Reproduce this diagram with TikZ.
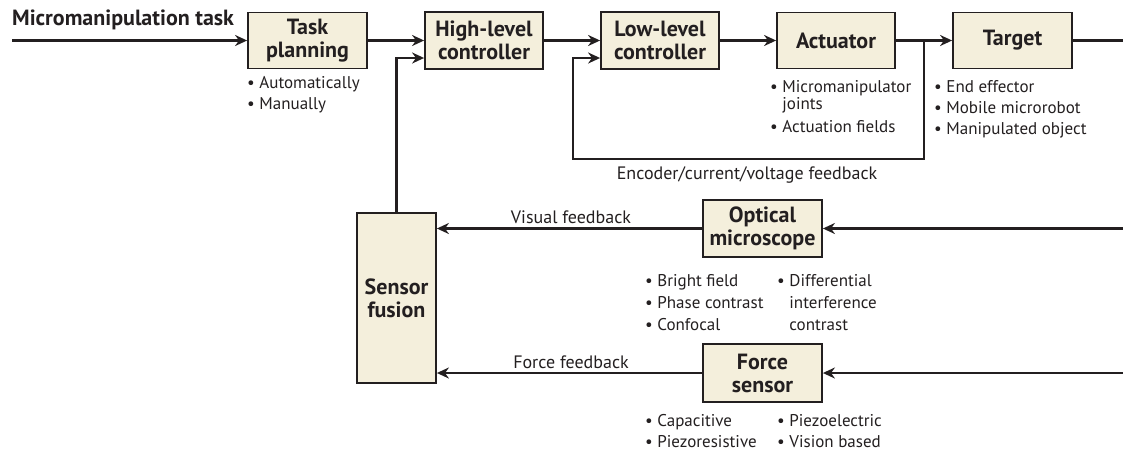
\documentclass[tikz,border=0pt]{standalone}
\usepackage{fontspec}
\setmainfont{PT Sans}
\usetikzlibrary{arrows.meta}
\definecolor{boxfill}{HTML}{F4EFDC}
\definecolor{ink}{HTML}{231F20}
\tikzset{
  blk/.style={draw=ink, line width=1.8pt, fill=boxfill, text=ink, inner sep=0pt,
    font=\fontsize{22}{23}\selectfont\bfseries, align=center},
  arr/.style={draw=ink, line width=2.2pt, -{Stealth[length=12pt,width=11pt]}},
  ln/.style={draw=ink, line width=2.2pt},
  lbl/.style={text=ink, inner sep=0pt, font=\fontsize{18}{20}\selectfont},
  bul/.style={text=ink, inner sep=0pt, anchor=north west, align=left,
    font=\fontsize{17}{21}\selectfont},
}
\newcommand{\bu}{\textbullet\ }
\newcommand{\bi}{\phantom{\textbullet\ }}
\begin{document}
\begin{tikzpicture}[x=1pt,y=-1pt]
\useasboundingbox (0,0) rectangle (1123,451);
% boxes
\node[blk, minimum width=119pt, minimum height=56pt] (task) at (307.5,40.5) {Task\\planning};
\node[blk, minimum width=118pt, minimum height=57pt] (high) at (484,40.5) {High-level\\controller};
\node[blk, minimum width=118pt, minimum height=57pt] (low) at (660,40.5) {Low-level\\controller};
\node[blk, minimum width=118pt, minimum height=56pt] (act) at (836,40.5) {Actuator};
\node[blk, minimum width=119pt, minimum height=56pt] (tgt) at (1012.5,40.5) {Target};
\node[blk, minimum width=79pt, minimum height=170pt] (sf) at (396.5,298) {Sensor\\fusion};
\node[blk, minimum width=119pt, minimum height=57pt] (opt) at (762.5,228.5) {Optical\\microscope};
\node[blk, minimum width=119pt, minimum height=58pt] (frc) at (762.5,373) {Force\\sensor};
% free ends
\coordinate (in) at (12,40.5);
\coordinate (out) at (1123,40.5);
\coordinate (fb) at (924,40.5);
\coordinate (fbc) at (573,159);
\coordinate (rin1) at (1123,228.5);
\coordinate (rin2) at (1123,373);
% connectors
\draw[arr] (in) -- (task.west);
\draw[arr] (task.east) -- (high.west);
\draw[arr] (high.east) -- (low.west);
\draw[arr] (low.east) -- (act.west);
\draw[arr] (act.east) -- (tgt.west);
\draw[ln] (tgt.east) -- (out);
\draw[arr] (sf.north) |- ([yshift=-17.5pt]high.west);
\draw[arr] (fb) |- (fbc) |- ([yshift=-17.5pt]low.west);
\draw[arr] (rin1) -- (opt.east);
\draw[arr] (opt.west) -- (sf.east |- opt.west);
\draw[arr] (rin2) -- (frc.east);
\draw[arr] (frc.west) -- (sf.east |- frc.west);
% labels
\node[lbl, font=\fontsize{22}{23}\selectfont\bfseries, anchor=west] (tasklbl) at (12,20) {Micromanipulation task};
\node[lbl] (enc) at (747,175) {Encoder/current/voltage feedback};
\node[lbl] (vis) at (571,217) {Visual feedback};
\node[lbl] (forcelbl) at (571,362) {Force feedback};
% bullet lists
\node[bul] (tb) at (247,76.5) {\bu Automatically\\\bu Manually};
\node[bul, font=\fontsize{17}{17}\selectfont] (ab) at (770,80.5) {\bu Micromanipulator\\\bi joints\\[6pt]\bu Actuation fields};
\node[bul] (gb) at (934,80.5) {\bu End effector\\\bu Mobile microrobot\\\bu Manipulated object};
\node[bul, font=\fontsize{17}{22}\selectfont] (ob1) at (645,274) {\bu Bright field\\\bu Phase contrast\\\bu Confocal};
\node[bul, font=\fontsize{17}{22}\selectfont] (ob2) at (777,274) {\bu Differential\\\bi interference\\\bi contrast};
\node[bul] (fb1) at (645,414) {\bu Capacitive\\\bu Piezoresistive};
\node[bul] (fb2) at (777,414) {\bu Piezoelectric\\\bu Vision based};
\end{tikzpicture}
\end{document}
